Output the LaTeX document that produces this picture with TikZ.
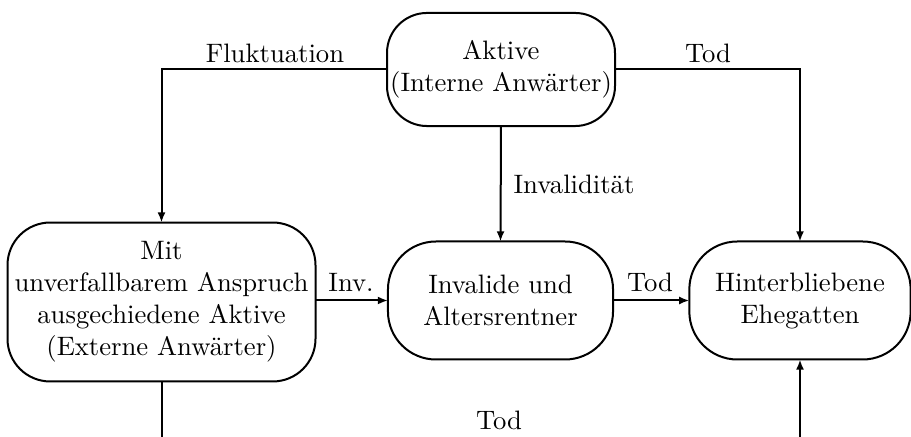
\documentclass[tikz,border=0pt]{standalone}
\usetikzlibrary{arrows.meta}
\begin{document}
\begin{tikzpicture}[x=0.375pt,y=-0.375pt,
  state/.style={draw,line width=0.75pt,align=center,inner sep=0pt,outer sep=0pt,
    font=\fontsize{10}{12}\selectfont},
  flow/.style={line width=0.75pt,-{Latex[length=3.8pt,width=3pt]}},
  plain/.style={line width=0.75pt},
  lbl/.style={font=\fontsize{10}{12}\selectfont,inner sep=0pt}]
\useasboundingbox (0,0) rectangle (911,437);

% states
\node[state,minimum width=85.5pt,minimum height=42.4pt,rounded corners=15pt]
  (akt) at (501,69.5) {Aktive\\(Interne Anwärter)};
\node[state,minimum width=115.5pt,minimum height=59.6pt,rounded corners=16pt]
  (ext) at (161.5,302) {Mit\\unverfallbarem Anspruch\\ausgechiedene Aktive\\(Externe Anwärter)};
\node[state,minimum width=84.4pt,minimum height=44.25pt,rounded corners=18pt]
  (inv) at (500.5,300.5) {Invalide und\\Altersrentner};
\node[state,minimum width=83pt,minimum height=44.25pt,rounded corners=18pt]
  (hin) at (800,300.5) {Hinterbliebene\\Ehegatten};

% loose ends at the lower edge
\coordinate (extend) at (161.5,437);
\coordinate (hinend) at (800,437);

% transitions
\draw[flow] (akt.west) -| (ext.north);
\draw[flow] (akt.east) -| (hin.north);
\draw[flow] (akt.south) -- (inv.north);
\draw[flow] (ext.east |- inv.west) -- (inv.west);
\draw[flow] (inv.east) -- (hin.west);
\draw[plain] (ext.south) -- (extend);
\draw[flow] (hinend) -- (hin.south);

% labels
\node[lbl] (lfluk) at (275,53) {Fluktuation};
\node[lbl] (ltod1) at (708,53) {Tod};
\node[lbl] (linvt) at (574,184) {Invalidität};
\node[lbl] (linv) at (351,283) {Inv.};
\node[lbl] (ltod2) at (650,282) {Tod};
\node[lbl] (ltod3) at (499,420) {Tod};
\end{tikzpicture}
\end{document}
